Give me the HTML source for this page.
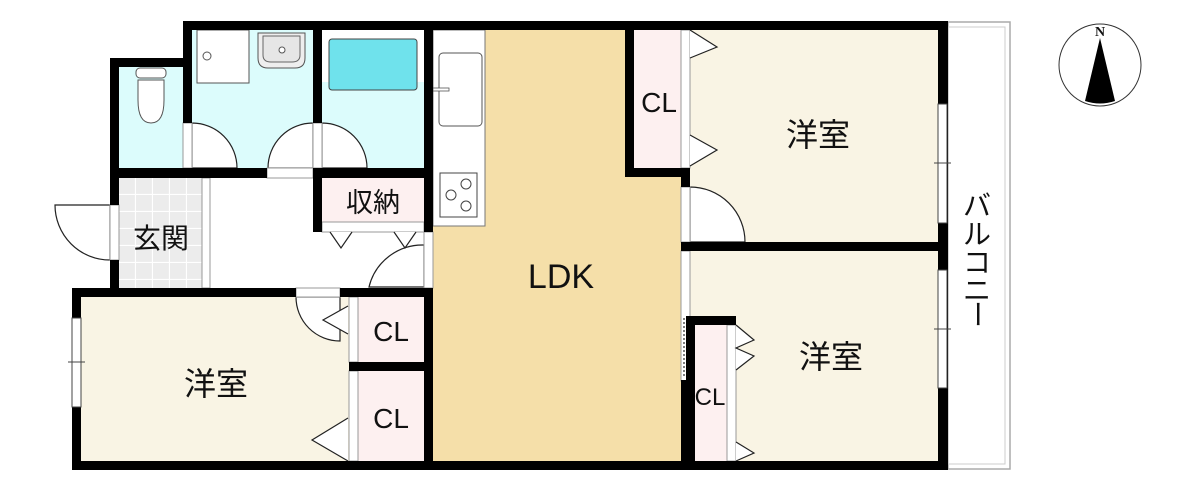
<!DOCTYPE html>
<html><head><meta charset="utf-8"><style>
html,body{margin:0;padding:0;background:#fff;}
svg{display:block;}
text{font-family:"Liberation Sans","Noto Sans CJK JP",sans-serif;fill:#111;}
</style></head><body>
<svg width="1196" height="491" viewBox="0 0 1196 491" xmlns="http://www.w3.org/2000/svg">
<defs>
<pattern id="tile" x="119" y="178" width="17" height="17" patternUnits="userSpaceOnUse">
<rect width="17" height="17" fill="#ececec"/><path d="M16.5 0V17M0 16.5H17" stroke="#fff" stroke-width="1.2"/>
</pattern>
</defs>
<rect x="948" y="22" width="62" height="447" fill="#fff" stroke="#aaa" stroke-width="1.5"/>
<rect x="948" y="27" width="57" height="437" fill="none" stroke="#ccc" stroke-width="1"/>
<rect x="119" y="67" width="64" height="101" fill="#dcfcfc"/>
<rect x="192" y="30" width="121" height="138" fill="#dcfcfc"/>
<rect x="322" y="30" width="102" height="138" fill="#dcfcfc"/>
<rect x="119" y="178" width="83" height="110" fill="url(#tile)"/>
<rect x="433" y="30" width="250" height="431" fill="#f5dfa9"/>
<rect x="690" y="30" width="248" height="212" fill="#f9f4e4"/>
<rect x="690" y="251" width="248" height="210" fill="#f9f4e4"/>
<rect x="81" y="297" width="268" height="164" fill="#f9f4e4"/>
<rect x="634" y="30" width="47" height="138" fill="#fdf0f0"/>
<rect x="695" y="325" width="32" height="136" fill="#fdf0f0"/>
<rect x="322" y="178" width="102" height="44" fill="#fdf0f0"/>
<rect x="358" y="297" width="66" height="65" fill="#fdf0f0"/>
<rect x="358" y="371" width="66" height="90" fill="#fdf0f0"/>
<rect x="197" y="30" width="52" height="53" fill="#fff" stroke="#555" stroke-width="1"/>
<circle cx="207" cy="56" r="4" fill="#fff" stroke="#555"/>
<path d="M258 33 H305 V58 Q305 68 295 68 H268 Q258 68 258 58Z" fill="#eee" stroke="#555"/>
<path d="M263 36 H300 V55 Q300 62 292 62 H271 Q263 62 263 55Z" fill="#e6e6e6" stroke="#666"/>
<circle cx="282" cy="50" r="3" fill="#fff" stroke="#555"/>
<rect x="322" y="30" width="102" height="52" fill="#fff"/>
<rect x="329" y="39" width="88" height="51" rx="3" fill="#6fe2ec" stroke="#444"/>
<rect x="136" y="68" width="30" height="10" rx="4" fill="#fff" stroke="#555"/>
<path d="M138 80 H164 V100 Q164 123 151 123 Q138 123 138 100Z" fill="#fff" stroke="#555"/>
<rect x="433" y="30" width="52" height="196" fill="#fff" stroke="#777"/>
<rect x="439" y="53" width="43" height="73" rx="4" fill="#fff" stroke="#555"/>
<rect x="433" y="88" width="16" height="3" fill="#fff" stroke="#555" stroke-width="0.8"/>
<rect x="440" y="173" width="37" height="44" fill="#fff" stroke="#444"/>
<circle cx="466" cy="184" r="5" fill="none" stroke="#444"/><circle cx="451" cy="195" r="5" fill="none" stroke="#444"/><circle cx="466" cy="206" r="5" fill="none" stroke="#444"/>
<rect x="202" y="178" width="8" height="110" fill="#fff" stroke="#999"/>
<g fill="#fff" stroke="#222" stroke-width="1.2">
<path d="M192 123 A45 45 0 0 1 237 168 H192Z"/>
<path d="M313 123 A45 45 0 0 0 268 168 H313Z"/>
<path d="M322 123 A45 45 0 0 1 367 168 H322Z"/>
<path d="M110 205 H55 A55 55 0 0 0 110 260Z"/>
<path d="M424 245 A55 55 0 0 0 369 287 H424Z"/>
<path d="M690 187 A55 55 0 0 1 745 242 H690Z"/>
<path d="M296 297 A44 44 0 0 0 340 341 V297Z"/>
</g>
<g fill="#fff" stroke="#999" stroke-width="1">
<rect x="183" y="123" width="9" height="45"/><rect x="313" y="123" width="9" height="45"/>
<rect x="267" y="168" width="46" height="10"/><rect x="110" y="205" width="9" height="55"/>
<rect x="296" y="288" width="44" height="9"/><rect x="681" y="187" width="9" height="55"/>
<rect x="349" y="297" width="9" height="65"/><rect x="349" y="371" width="9" height="90"/>
<rect x="681" y="30" width="9" height="138"/><rect x="727" y="325" width="9" height="136"/>
<rect x="322" y="222" width="102" height="10"/><rect x="424" y="232" width="9" height="56"/>
<rect x="681" y="251" width="9" height="130"/>
</g>
<path d="M684 318 V378" stroke="#555" stroke-dasharray="2 2" stroke-width="1.5"/>
<g fill="#fff" stroke="#222" stroke-width="1.2">
<path d="M330 232 L341 248 L352 232"/><path d="M394 232 L405 248 L416 232"/>
<path d="M690 30 L717 47 L690 58"/><path d="M690 135 L717 150 L690 166"/>
<path d="M736 325 L754 340 L736 348 L754 356 L736 370"/><path d="M736 442 L754 453 L736 461"/>
<path d="M348 306 L323 320 L348 334"/><path d="M348 418 L312 440 L348 461"/>
</g>
<g fill="#000">
<rect x="183" y="21" width="765" height="9"/>
<rect x="938" y="21" width="10" height="449"/>
<rect x="72" y="461" width="876" height="9"/>
<rect x="110" y="58" width="82" height="9"/>
<rect x="110" y="58" width="9" height="147"/><rect x="110" y="260" width="9" height="37"/>
<rect x="183" y="21" width="9" height="102"/>
<rect x="313" y="21" width="9" height="102"/>
<rect x="424" y="21" width="9" height="211"/>
<rect x="424" y="288" width="9" height="182"/>
<rect x="110" y="168" width="157" height="10"/><rect x="313" y="168" width="120" height="10"/>
<rect x="313" y="168" width="9" height="64"/><rect x="313" y="222" width="9" height="10"/>
<rect x="72" y="288" width="224" height="9"/><rect x="340" y="288" width="93" height="9"/>
<rect x="72" y="288" width="9" height="182"/>
<rect x="349" y="288" width="9" height="9"/>
<rect x="349" y="362" width="75" height="9"/>
<rect x="625" y="21" width="9" height="156"/><rect x="625" y="168" width="65" height="9"/>
<rect x="681" y="168" width="9" height="19"/>
<rect x="681" y="242" width="266" height="9"/>
<rect x="686" y="316" width="50" height="9"/><rect x="686" y="316" width="9" height="154"/>
<rect x="681" y="380" width="9" height="90"/>
</g>
<g fill="#fff" stroke="#444" stroke-width="1">
<rect x="938" y="104" width="9" height="119"/><rect x="938" y="270" width="9" height="118"/>
<rect x="72" y="318" width="9" height="89"/>
</g>
<path d="M934 163H951M934 329H951M68 362H85" stroke="#444"/>
<text x="161" y="248" font-size="28" text-anchor="middle">玄関</text>
<text x="373" y="212" font-size="27" text-anchor="middle">収納</text>
<text x="561" y="288" font-size="34" text-anchor="middle">LDK</text>
<text x="659" y="112" font-size="28" text-anchor="middle">CL</text>
<text x="391" y="341" font-size="28" text-anchor="middle">CL</text>
<text x="391" y="428" font-size="28" text-anchor="middle">CL</text>
<text x="710" y="405" font-size="24" text-anchor="middle">CL</text>
<text x="818" y="146" font-size="32" text-anchor="middle">洋室</text>
<text x="831" y="368" font-size="32" text-anchor="middle">洋室</text>
<text x="216" y="395" font-size="32" text-anchor="middle">洋室</text>
<g font-size="28" text-anchor="middle">
<text x="977" y="215">バ</text>
<text x="977" y="244">ル</text>
<text x="977" y="272">コ</text>
<text x="977" y="300">ニ</text>
<text font-size="28" transform="translate(977,314) rotate(90)" text-anchor="middle" dominant-baseline="central">ー</text>
</g>
<circle cx="1100" cy="65" r="41" fill="#fff" stroke="#333" stroke-width="1"/>
<path d="M1100 38 L1085 101 Q1100 106 1115 101Z" fill="#000"/>
<text x="1100" y="36" font-size="14" font-weight="bold" text-anchor="middle" style="font-family:'Liberation Serif',serif">N</text>
</svg>
</body></html>
